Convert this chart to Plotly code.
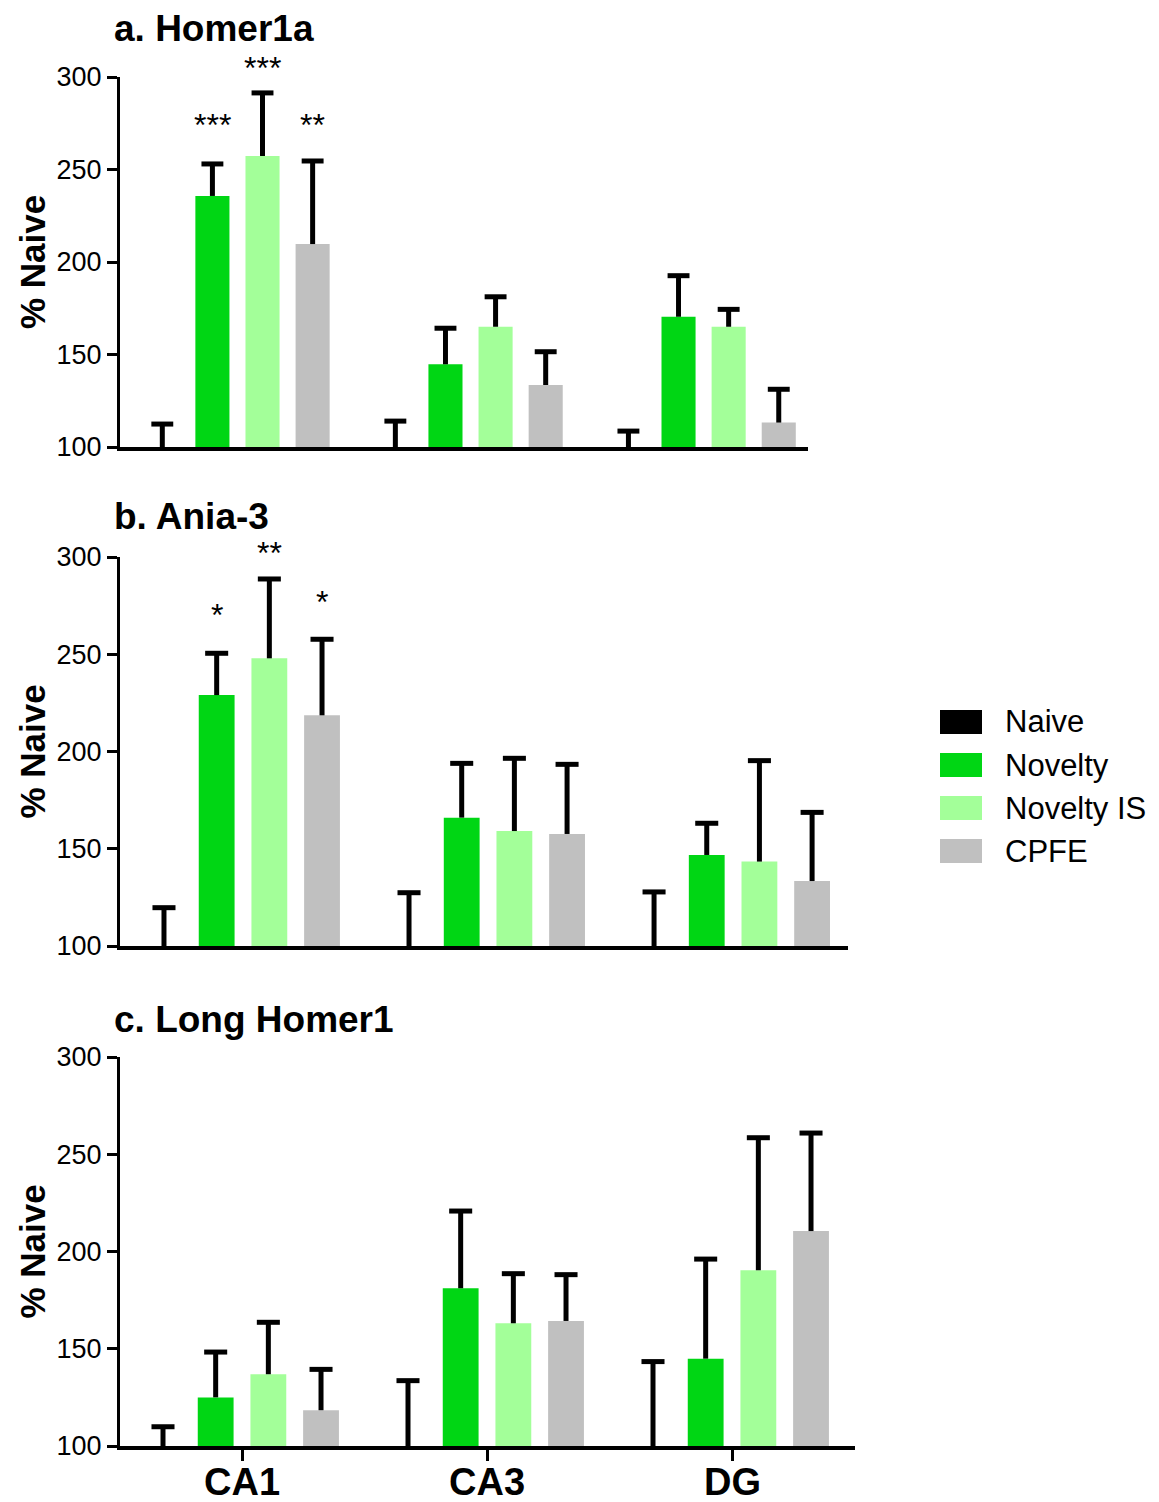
import plotly.graph_objects as go

# page geometry: the html body adds an 8px margin around the figure
PAGE_W, PAGE_H = 1159, 1502
OFF = 8
W, H = PAGE_W - OFF, PAGE_H - OFF


def fx(px):
    return (px - OFF) / W


def fy(py):
    return 1 - (py - OFF) / H


regions = ["CA1", "CA3", "DG"]
region_pos = [0, 1, 2]
groups = ["Naive", "Novelty", "Novelty IS", "CPFE"]
colors = ["#000000", "#00D614", "#A3FF99", "#C0C0C0"]

panel_titles = ["a. Homer1a", "b. Ania-3", "c. Long Homer1"]

# Panel a: Homer1a  (rows = groups, cols = regions)
homer1a_mean = [[100, 100, 100], [235.7, 144.7, 170.4], [257.3, 165.0, 165.0], [209.7, 133.5, 113.2]]
homer1a_err = [[12.4, 14.0, 8.6], [17.3, 19.5, 22.2], [34.1, 16.2, 9.4], [44.9, 18.0, 18.0]]
# Panel b: Ania-3
ania3_mean = [[100, 100, 100], [229.0, 166.0, 146.8], [247.9, 159.1, 143.4], [218.6, 157.6, 133.4]]
ania3_err = [[19.7, 27.4, 27.8], [21.5, 27.9, 16.3], [40.8, 37.4, 51.9], [39.1, 35.8, 35.3]]
# Panel c: Long Homer1
longhomer1_mean = [[100, 100, 100], [125.0, 181.1, 144.9], [136.9, 163.1, 190.3], [118.4, 164.3, 210.5]]
longhomer1_err = [[9.9, 33.6, 43.4], [23.3, 39.7, 51.2], [26.7, 25.5, 68.2], [21.0, 23.8, 50.4]]

# significance stars: (group index, region index, label, y value of star centre)
stars_a = [(1, 0, "***", 274), (2, 0, "***", 305), (3, 0, "**", 274)]
stars_b = [(1, 0, "*", 270), (2, 0, "**", 302), (3, 0, "*", 277)]
stars_c = []

panels = [
    (homer1a_mean, homer1a_err, stars_a),
    (ania3_mean, ania3_err, stars_b),
    (longhomer1_mean, longhomer1_err, stars_c),
]

# layout geometry (page pixels)
px_x = [(120, 808), (120, 848), (120, 855)]
px_y = [(447, 77), (946, 557), (1446, 1057)]
x_ranges = [[-0.504, 2.448], [-0.502, 2.469], [-0.498, 2.502]]
title_y = [29, 516, 1019]
Y_RANGE = [100, 300]

FONT = "Liberation Sans, Arial, Helvetica, sans-serif"

BARGAP = 0.14
BARGROUPGAP = 0.32
slot = (1 - BARGAP) / 4
cap_half = 0.047

fig = go.Figure()
annotations = []
shapes = []

for p, (means, errs, stars) in enumerate(panels):
    xa = "x" if p == 0 else f"x{p+1}"
    ya = "y" if p == 0 else f"y{p+1}"
    for g in range(4):
        fig.add_trace(go.Bar(
            x=region_pos, y=means[g], name=groups[g],
            marker=dict(color=colors[g], line=dict(width=0)),
            xaxis=xa, yaxis=ya, showlegend=False,
        ))
    # upward-only error whiskers (stem + cap), built from the data
    ex, ey = [], []
    for g in range(4):
        for r in region_pos:
            xc = r + (g - 1.5) * slot
            top = means[g][r] + errs[g][r]
            ex += [xc, xc, None, xc - cap_half, xc + cap_half, None]
            ey += [means[g][r], top, None, top, top, None]
    fig.add_trace(go.Scatter(
        x=ex, y=ey, mode="lines", line=dict(color="black", width=5),
        xaxis=xa, yaxis=ya, showlegend=False, hoverinfo="skip", cliponaxis=False,
    ))
    ppu = (px_y[p][0] - px_y[p][1]) / (Y_RANGE[1] - Y_RANGE[0])
    for (g, r, txt, yv) in stars:
        yy = min(yv, Y_RANGE[1])
        annotations.append(dict(
            x=r + (g - 1.5) * slot, y=yy, yshift=(yv - yy) * ppu,
            xref=xa, yref=ya, text=txt,
            showarrow=False, font=dict(family=FONT, size=32, color="black"),
            xanchor="center", yanchor="middle"))
    # title
    annotations.append(dict(
        x=fx(112), y=fy(title_y[p]), xref="paper", yref="paper",
        text=f"<b>{panel_titles[p]}</b>", showarrow=False,
        font=dict(family=FONT, size=37, color="black"),
        xanchor="left", yanchor="middle"))
    # y label
    yc = (px_y[p][0] + px_y[p][1]) / 2
    annotations.append(dict(
        x=fx(32), y=fy(yc), xref="paper", yref="paper",
        text="<b>% Naive</b>", showarrow=False, textangle=-90,
        font=dict(family=FONT, size=35, color="black"),
        xanchor="center", yanchor="middle"))

    xdom = [fx(px_x[p][0]), fx(px_x[p][1])]
    ydom = [fy(px_y[p][0]), fy(px_y[p][1])]
    last = p == 2
    xkey = "xaxis" if p == 0 else f"xaxis{p+1}"
    ykey = "yaxis" if p == 0 else f"yaxis{p+1}"
    fig.update_layout(**{
        xkey: dict(domain=xdom, anchor=ya, range=x_ranges[p], type="linear",
                   tickvals=region_pos, showticklabels=False,
                   showline=True, linecolor="black", linewidth=4,
                   ticks="outside" if last else "", ticklen=11, tickwidth=3,
                   tickcolor="black",
                   showgrid=False, zeroline=False, fixedrange=True, automargin=False),
        ykey: dict(domain=ydom, anchor=xa, range=Y_RANGE,
                   tickvals=[100, 150, 200, 250, 300],
                   showline=True, linecolor="black", linewidth=3,
                   ticks="outside", ticklen=10, tickwidth=3, tickcolor="black",
                   tickfont=dict(family=FONT, size=27, color="black"),
                   showgrid=False, zeroline=False, fixedrange=True, automargin=False),
    })

# region labels under the bottom panel (placed at the region positions of x3)
for r, name in zip(region_pos, regions):
    annotations.append(dict(
        x=r, y=fy(1482), xref="x3", yref="paper", text=f"<b>{name}</b>",
        showarrow=False, font=dict(family=FONT, size=38, color="black"),
        xanchor="center", yanchor="middle"))

# custom legend
leg_y = [722, 765, 808, 851]
for g in range(4):
    shapes.append(dict(type="rect", xref="paper", yref="paper",
                       x0=fx(940), x1=fx(982),
                       y0=fy(leg_y[g] + 12), y1=fy(leg_y[g] - 12),
                       fillcolor=colors[g], line=dict(width=0)))
    annotations.append(dict(x=fx(1003), y=fy(leg_y[g]), xref="paper", yref="paper",
                            text=groups[g], showarrow=False,
                            font=dict(family=FONT, size=31, color="black"),
                            xanchor="left", yanchor="middle"))

fig.update_layout(
    width=W, height=H, margin=dict(l=0, r=0, t=0, b=0, autoexpand=False),
    paper_bgcolor="white", plot_bgcolor="white",
    barmode="group", bargap=BARGAP, bargroupgap=BARGROUPGAP,
    annotations=annotations, shapes=shapes, showlegend=False,
)

fig.write_html("out.html")
